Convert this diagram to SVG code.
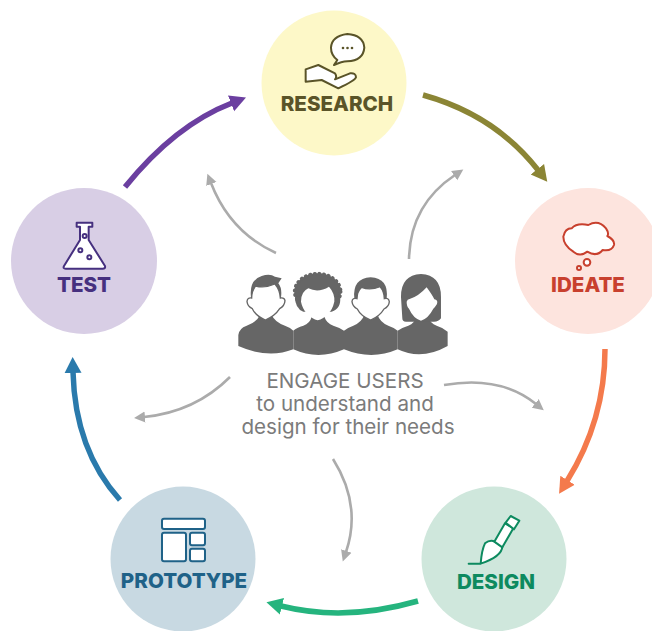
<svg xmlns="http://www.w3.org/2000/svg" width="652" height="631" viewBox="0 0 652 631">
<style>
.lbl{font-family:"Inter","Liberation Sans",sans-serif;font-weight:800;font-size:20.600px;text-anchor:middle}
.sub{font-family:"Inter","Liberation Sans",sans-serif;font-size:20.600px;fill:#7b7b7b;text-anchor:middle}
.arc{fill:none;stroke-width:5.500}
.gr{fill:none;stroke:#ababab;stroke-width:2.600}
.ic{fill:#fff;stroke-width:6;stroke-linejoin:round;stroke-linecap:round}
.bd{fill:#666}
.fc{fill:#fff;stroke:#666;stroke-width:4}
</style>
<defs>
<marker id="mP" markerUnits="userSpaceOnUse" markerWidth="20" markerHeight="20" refX="1" refY="10" orient="auto"><path d="M0 1.500L16 10L0 18.500Z" fill="#6b3fa0"/></marker>
<marker id="mO" markerUnits="userSpaceOnUse" markerWidth="20" markerHeight="20" refX="1" refY="10" orient="auto"><path d="M0 1.500L16 10L0 18.500Z" fill="#8b8535"/></marker>
<marker id="mR" markerUnits="userSpaceOnUse" markerWidth="20" markerHeight="20" refX="1" refY="10" orient="auto"><path d="M0 1.500L16 10L0 18.500Z" fill="#f47a4c"/></marker>
<marker id="mG" markerUnits="userSpaceOnUse" markerWidth="20" markerHeight="20" refX="1" refY="10" orient="auto"><path d="M0 1.500L16 10L0 18.500Z" fill="#25b47e"/></marker>
<marker id="mB" markerUnits="userSpaceOnUse" markerWidth="20" markerHeight="20" refX="1" refY="10" orient="auto"><path d="M0 1.500L16 10L0 18.500Z" fill="#2a7aac"/></marker>
<marker id="mY" markerUnits="userSpaceOnUse" markerWidth="14" markerHeight="14" refX="1" refY="7" orient="auto"><path d="M0 1.500L11 7L0 12.500Z" fill="#ababab"/></marker>
</defs>
<g id="connectors">
<path class="arc" stroke="#6b3fa0" marker-end="url(#mP)" d="M125 187Q175 125 232 103"/>
<path class="arc" stroke="#8b8535" marker-end="url(#mO)" d="M423 95Q495 115 538 170"/>
<path class="arc" stroke="#f47a4c" marker-end="url(#mR)" d="M605 349Q605 420 567 481"/>
<path class="arc" stroke="#25b47e" marker-end="url(#mG)" d="M418 601Q345 622 281 606"/>
<path class="arc" stroke="#2a7aac" marker-end="url(#mB)" d="M120 500Q75 450 73 372"/>
<path class="gr" marker-end="url(#mY)" d="M276 253Q230 232 211 183"/>
<path class="gr" marker-end="url(#mY)" d="M409 259Q410 205 455 175"/>
<path class="gr" marker-end="url(#mY)" d="M444 385Q500 375 536 404"/>
<path class="gr" marker-end="url(#mY)" d="M333 459Q362 505 346 552"/>
<path class="gr" marker-end="url(#mY)" d="M230 377Q195 412 144 417"/>
</g>
<g id="research">
<circle cx="334" cy="83" r="72.500" fill="#fdf8c8"/>
<g transform="translate(260 0) scale(.3333)" class="ic" stroke="#5a5428">
<path d="M232 180Q213 165 213 143Q215 108 262 102Q310 105 313 143Q310 182 262 184Q245 185 222 195Z"/>
<path d="M137 208L175 195L225 220Q232 230 225 238L270 220Q288 218 288 232Q285 242 235 265L185 240L137 245Z"/>
</g>
<g fill="#5a5428"><circle cx="343" cy="48" r="1.300"/><circle cx="347.500" cy="48" r="1.300"/><circle cx="352" cy="48" r="1.300"/></g>
<text class="lbl" x="337" y="111" fill="#5a5428">RESEARCH</text>
</g>
<g id="ideate">
<circle cx="588" cy="261" r="73" fill="#fde4de"/>
<g transform="translate(530 200) scale(.3333)" class="ic" stroke="#c8402e">
<path d="M130 155Q100 135 100 110Q105 85 125 85Q140 68 175 75Q205 58 228 85Q238 100 232 108Q255 120 252 135Q245 155 218 150Q200 172 172 155Q150 172 130 155Z"/>
<circle cx="171" cy="187" r="10"/>
<circle cx="147" cy="204" r="6"/>
</g>
<text class="lbl" x="588" y="292" fill="#c8402e">IDEATE</text>
</g>
<g id="design">
<circle cx="494" cy="559" r="72.500" fill="#cfe7dc"/>
<g transform="translate(440 500) scale(.3333)" class="ic" stroke="#0d8a5f">
<path d="M86 191H122Q125 150 135 130Q150 118 165 125L187 140Q185 170 122 191Z"/>
<path d="M163 125L195 70L220 85L187 142Z"/>
<path d="M197 68L212 48L238 62L222 88Z"/>
</g>
<text class="lbl" x="496" y="589" fill="#0d8a5f">DESIGN</text>
</g>
<g id="prototype">
<circle cx="183" cy="559" r="72.500" fill="#c8d9e2"/>
<g transform="translate(115 505) scale(.3333)" class="ic" stroke="#1f6288" stroke-linecap="butt">
<rect x="141" y="41" width="129" height="31" rx="6"/>
<rect x="141" y="83" width="72" height="86" rx="6"/>
<rect x="225" y="83" width="45" height="38" rx="6"/>
<rect x="225" y="131" width="45" height="38" rx="6"/>
</g>
<text class="lbl" x="184" y="588" fill="#1f6288">PROTOTYPE</text>
</g>
<g id="test">
<circle cx="84" cy="261" r="73" fill="#d8cee5"/>
<g transform="translate(40 210) scale(.3333)" class="ic" stroke="#46307f">
<path d="M110 38H157V50H146V90L195 168Q197 176 188 176H77Q68 176 72 168L120 90V50H110Z"/>
<circle cx="134" cy="78" r="6"/>
<circle cx="121" cy="121" r="6"/>
<circle cx="148" cy="142" r="6"/>
</g>
<text class="lbl" x="84" y="292" fill="#46307f">TEST</text>
</g>
<g id="users">
<g transform="translate(225 260) scale(.3333)">
<path class="bd" d="M40 258V225Q42 205 65 197Q95 187 105 165H140Q150 187 180 197Q195 202 205 212V268Q130 298 40 258Z"/>
<path class="bd" d="M205 212Q215 203 235 197Q255 190 260 170H298Q305 190 325 197Q345 203 357 212V268Q280 302 205 268Z"/>
<path class="bd" d="M357 212Q368 203 385 197Q410 187 418 165H458Q465 187 490 197Q508 203 518 212V268Q440 302 357 268Z"/>
<path class="bd" d="M518 212Q530 203 550 197Q570 190 572 170H610Q615 190 635 197Q655 203 668 215V258Q590 302 518 268Z"/>
<path class="bd" d="M78 112Q72 60 110 48Q135 40 150 50L170 55L160 70Q172 85 168 112Z"/>
<path class="fc" d="M80 114Q67 112 66 125Q68 140 82 146Q92 168 121 180Q150 168 164 146Q179 138 180 122Q178 112 166 114Q165 90 150 72Q120 85 92 78Q80 92 80 114Z"/>
<ellipse cx="278" cy="95" rx="67" ry="52" fill="#666" stroke="#666" stroke-width="6"/>
<ellipse cx="278" cy="95" rx="69" ry="54" fill="none" stroke="#666" stroke-width="11" stroke-linecap="round" stroke-dasharray="1 13"/>
<path class="bd" d="M210 110Q210 145 235 155H320Q350 145 345 110Z"/>
<path fill="#fff" d="M228 125Q228 95 250 85Q280 100 312 80Q330 100 328 125Q322 150 310 160Q295 178 278 181Q262 178 245 160Q232 145 228 125Z"/>
<path class="bd" d="M388 115Q382 55 437 52Q492 55 485 115Z"/>
<path class="fc" d="M396 116Q382 112 381 125Q383 140 397 147Q407 168 437 180Q465 168 477 147Q492 140 493 125Q491 112 478 116Q478 95 465 80Q435 92 410 82Q396 95 396 116Z"/>
<path class="bd" d="M528 110Q528 45 588 42Q648 45 648 110V175Q640 186 625 185H545Q532 186 532 175Z"/>
<path fill="#fff" d="M545 125Q548 118 552 118Q580 110 605 82Q622 105 628 118Q640 120 636 132Q630 142 625 146Q610 175 588 182Q565 175 552 146Q545 140 545 125Z"/>
</g>
</g>
<g id="center-text">
<text class="sub" x="345" y="388">ENGAGE USERS</text>
<text class="sub" x="345" y="411">to understand and</text>
<text class="sub" x="348" y="434">design for their needs</text>
</g>
</svg>
